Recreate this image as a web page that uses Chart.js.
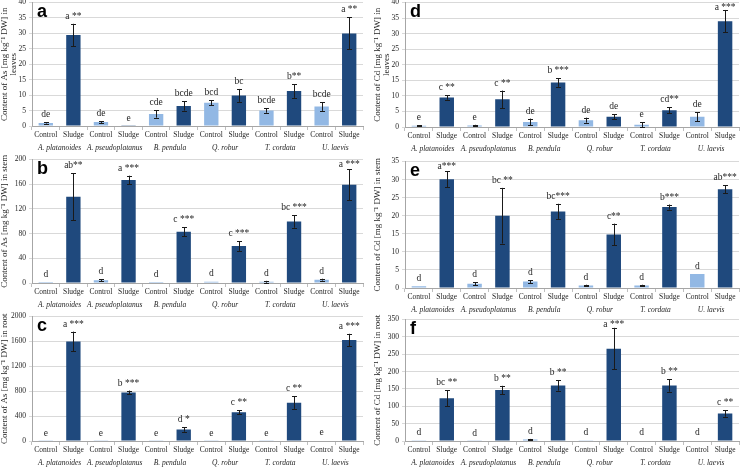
<!DOCTYPE html>
<html>
<head>
<meta charset="utf-8">
<script src="https://cdn.jsdelivr.net/npm/chart.js@4.4.1/dist/chart.umd.min.js"></script>
<style>
  body { margin: 0; background: #fff; width: 746px; height: 470px; position: relative; overflow: hidden; }
  .panel { position: absolute; }
</style>
</head>
<body>
<div class="panel" style="left:0;top:-5px;width:373px;height:161px"><canvas id="a"></canvas></div>
<div class="panel" style="left:0;top:152px;width:373px;height:161px"><canvas id="b"></canvas></div>
<div class="panel" style="left:0;top:309px;width:373px;height:162px"><canvas id="c"></canvas></div>
<div class="panel" style="left:373px;top:-5px;width:373px;height:162px"><canvas id="d"></canvas></div>
<div class="panel" style="left:373px;top:154px;width:373px;height:164px"><canvas id="e"></canvas></div>
<div class="panel" style="left:373px;top:312px;width:373px;height:159px"><canvas id="f"></canvas></div>
<script>
const treatments = ['Control', 'Sludge', 'Control', 'Sludge', 'Control', 'Sludge',
                    'Control', 'Sludge', 'Control', 'Sludge', 'Control', 'Sludge'];
const species = ['A. platanoides', 'A. pseudoplatanus', 'B. pendula', 'Q. robur', 'T. cordata', 'U. laevis'];

// As in leaves (a)
const asLeaves    = [1.0, 29.5, 1.3, 0.1, 3.9, 6.5, 7.5, 9.9, 5.0, 11.3, 6.3, 30.0];
const asLeavesErr = [0.2, 3.6, 0.3, 0, 1.2, 1.5, 0.8, 2.1, 0.7, 2.2, 1.4, 5.2];
const asLeavesSig = ['de', 'a **', 'de', 'e', 'cde', 'bcde', 'bcd', 'bc', 'bcde', 'b**', 'bcde', 'a **'];

// As in stem (b)
const asStem    = [1.5, 139.7, 4.3, 166.8, 1.5, 83.0, 2.0, 60.0, 2.0, 99.5, 5.4, 159.0];
const asStemErr = [0.5, 38, 1.5, 7, 0.5, 7, 0.5, 8, 1.5, 10, 1.5, 25];
const asStemSig = ['d', 'ab**', 'd', 'a ***', 'd', 'c ***', 'd', 'c ***', 'd', 'bc ***', 'd', 'a ***'];

// As in root (c)
const asRoot    = [3, 1600, 5, 780, 5, 184, 3, 460, 3, 616, 8, 1622];
const asRootErr = [1, 157, 2, 30, 2, 35, 1, 30, 1, 100, 3, 100];
const asRootSig = ['e', 'a ***', 'e', 'b ***', 'e', 'd *', 'e', 'c **', 'e', 'c **', 'e', 'a ***'];

// Cd in leaves (d)
const cdLeaves    = [0.4, 9.5, 0.5, 8.9, 1.6, 14.3, 2.2, 3.3, 0.7, 5.4, 3.3, 34.0];
const cdLeavesErr = [0.2, 0.7, 0.2, 2.8, 1.1, 1.4, 0.8, 0.8, 0.8, 0.9, 1.4, 3.6];
const cdLeavesSig = ['e', 'c **', 'e', 'c **', 'de', 'b ***', 'de', 'de', 'e', 'cd**', 'de', 'a ***'];

// Cd in stem (e)
const cdStem    = [0.5, 30.1, 1.2, 20.0, 1.8, 21.2, 0.7, 14.8, 0.7, 22.4, 3.9, 27.3];
const cdStemErr = [0.1, 2.2, 0.4, 7.7, 0.4, 2.1, 0.2, 3.0, 0.2, 0.7, 0.1, 1.1];
const cdStemSig = ['d', 'a***', 'd', 'bc **', 'd', 'bc***', 'd', 'c**', 'd', 'b***', 'd', 'ab***'];

// Cd in root (f)
const cdRoot    = [2, 123, 0.5, 147, 4, 160, 2, 266, 1.5, 160, 1.5, 79];
const cdRootErr = [1, 23, 0.3, 12, 2, 15, 1, 60, 0.5, 18, 0.5, 9];
const cdRootSig = ['d', 'bc **', 'd', 'b **', 'd', 'b **', 'd', 'a ***', 'd', 'b **', 'd', 'c **'];

const controlColor = '#92B8E4';
const sludgeColor = '#1F497D';
const serif = '"Liberation Serif", "Times New Roman", serif';

function makePanel(id, letter, values, errors, sig, yMax, step, title, padRight) {
  // error bars, significance letters and the panel letter
  const extras = {
    id: 'extras' + id,
    afterDatasetsDraw(chart) {
      const ctx = chart.ctx;
      const y = chart.scales.y;
      const meta = chart.getDatasetMeta(0);
      ctx.save();
      ctx.strokeStyle = '#1a1a1a';
      ctx.lineWidth = 1;
      ctx.fillStyle = '#262626';
      ctx.font = '9.5px ' + serif;
      ctx.textAlign = 'center';
      meta.data.forEach((bar, i) => {
        const v = values[i], e = errors[i];
        const x = Math.round(bar.x) + 0.5;
        const top = y.getPixelForValue(v + e);
        const bot = y.getPixelForValue(Math.max(v - e, 0));
        if (e > 0 && bot - top > 1) {
          ctx.beginPath();
          ctx.moveTo(x, top); ctx.lineTo(x, bot);
          ctx.moveTo(x - 2.5, Math.round(top) + 0.5); ctx.lineTo(x + 2.5, Math.round(top) + 0.5);
          ctx.moveTo(x - 2.5, Math.round(bot) + 0.5); ctx.lineTo(x + 2.5, Math.round(bot) + 0.5);
          ctx.stroke();
        }
        // keep the letters inside the plot when a bar reaches the top
        const ty = Math.max(Math.min(top, bar.y) - 5, chart.chartArea.top + 7);
        ctx.fillText(sig[i], bar.x, ty);
      });
      ctx.fillStyle = '#000';
      ctx.textAlign = 'left';
      ctx.font = 'bold 18px "Liberation Sans", Arial, sans-serif';
      ctx.fillText(letter, chart.chartArea.left + 5, chart.chartArea.top + 14);
      ctx.restore();
    }
  };

  return new Chart(document.getElementById(id), {
    type: 'bar',
    data: {
      labels: treatments,
      datasets: [{
        data: values,
        backgroundColor: values.map((v, i) => i % 2 === 0 ? controlColor : sludgeColor),
        borderWidth: 0,
        barPercentage: 0.52,
        categoryPercentage: 1,
      }]
    },
    options: {
      responsive: true,
      maintainAspectRatio: false,
      animation: false,
      layout: { padding: { top: 0, right: padRight, bottom: 3, left: 0 } },
      plugins: { legend: { display: false }, tooltip: { enabled: false } },
      scales: {
        x: {
          weight: 0,
          afterFit(scale) { scale.height = 15; },
          grid: { display: true, drawOnChartArea: false, tickLength: 4, color: '#BFBFBF' },
          border: { display: true, color: '#A6A6A6' },
          ticks: { color: '#262626', padding: 1, autoSkip: false, maxRotation: 0,
                   font: { family: serif, size: 7.5 } },
        },
        x2: {
          type: 'category',
          labels: species,
          position: 'bottom',
          weight: 1,
          offset: true,
          afterFit(scale) { scale.height = 12; },
          grid: { display: false, drawTicks: false, tickLength: 0 },
          border: { display: false },
          ticks: { color: '#262626', padding: 3, autoSkip: false, maxRotation: 0,
                   font: { family: serif, size: 7.5, style: 'italic' } },
        },
        y: {
          min: 0,
          max: yMax,
          afterFit(scale) { scale.width = 32; },
          ticks: { stepSize: step, color: '#262626', padding: 3, callback: v => String(v),
                   font: { family: serif, size: 7.5 } },
          grid: { color: '#D9D9D9', tickLength: 3 },
          border: { display: true, color: '#A6A6A6' },
          title: { display: true, text: title, color: '#262626', padding: 0,
                   font: { family: serif, size: 9, lineHeight: 1 } },
        }
      }
    },
    plugins: [extras]
  });
}

makePanel('a', 'a', asLeaves, asLeavesErr, asLeavesSig, 40, 5,
  ['Content of As [mg kg\u207B\u00B9 DW] in', 'leaves'], 10);
makePanel('b', 'b', asStem, asStemErr, asStemSig, 200, 40,
  'Content of As [mg kg\u207B\u00B9 DW] in stem', 10);
makePanel('c', 'c', asRoot, asRootErr, asRootSig, 2000, 400,
  'Content of As [mg kg\u207B\u00B9 DW] in root', 10);
makePanel('d', 'd', cdLeaves, cdLeavesErr, cdLeavesSig, 40, 5,
  ['Content of Cd [mg kg\u207B\u00B9 DW] in', 'leaves'], 7);
makePanel('e', 'e', cdStem, cdStemErr, cdStemSig, 35, 5,
  'Content of Cd [mg kg\u207B\u00B9 DW] in stem', 7);
makePanel('f', 'f', cdRoot, cdRootErr, cdRootSig, 350, 50,
  'Content of Cd [mg kg\u207B\u00B9 DW] in root', 7);
</script>
</body>
</html>
